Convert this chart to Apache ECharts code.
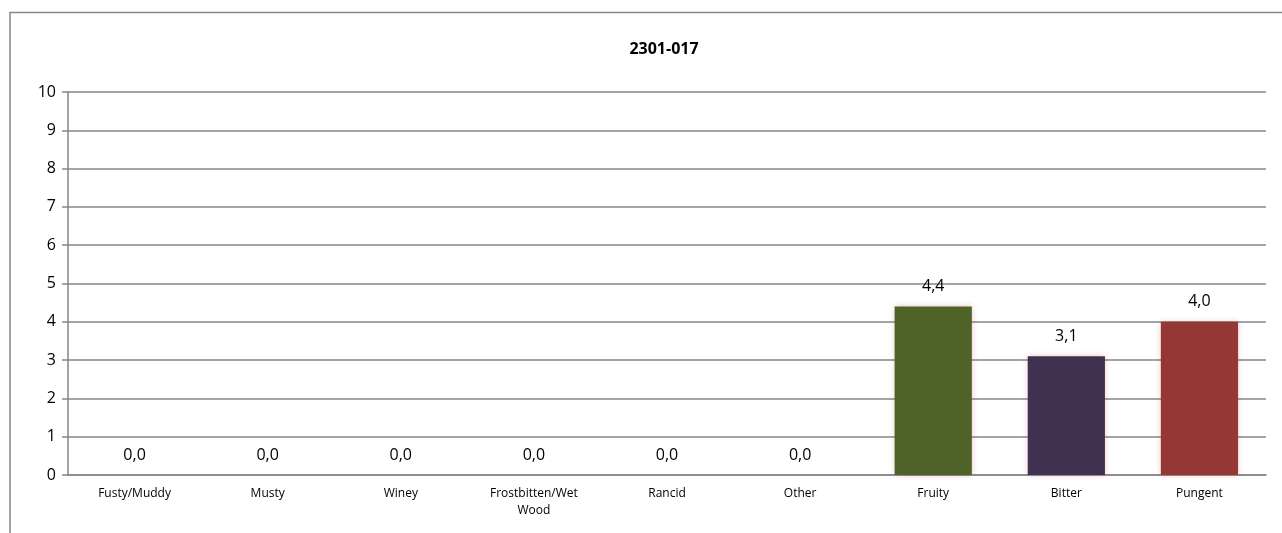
<!DOCTYPE html>
<html>
<head>
<meta charset="utf-8">
<script src="https://cdn.jsdelivr.net/npm/echarts@6/dist/echarts.min.js"></script>
<style>
  html, body { margin: 0; padding: 0; background: #fff; }
  #main { width: 1282px; height: 533px; }
</style>
</head>
<body>
<div id="main"></div>
<script>
// data
var categories = ['Fusty/Muddy', 'Musty', 'Winey', 'Frostbitten/Wet\nWood', 'Rancid', 'Other', 'Fruity', 'Bitter', 'Pungent'];
var values = [0, 0, 0, 0, 0, 0, 4.4, 3.1, 4.0];
var barColors = ['#4F6228', '#4F6228', '#4F6228', '#4F6228', '#4F6228', '#4F6228', '#4F6228', '#403151', '#953735'];
var yTicks = [0, 1, 2, 3, 4, 5, 6, 7, 8, 9, 10];

var myChart = echarts.init(document.getElementById('main'));

var font = 'Open Sans, Noto Sans, sans-serif';

var option = {
  animation: false,
  title: {
    text: '2301-017',
    left: 659,
    top: 36,
    textAlign: 'center',
    textStyle: { fontFamily: font, fontSize: 16, fontWeight: 'bold', color: '#000' }
  },
  graphic: [
    {
      type: 'polyline',
      shape: { points: [[10, 533], [10, 12.5], [1282, 12.5]] },
      style: { stroke: '#868686', lineWidth: 1.5, fill: null }
    }
  ],
  grid: { left: 68, right: 16, top: 92, bottom: 58 },
  xAxis: {
    type: 'category',
    data: categories,
    axisLine: { show: true, lineStyle: { color: '#868686', width: 1.5 } },
    axisTick: { show: false },
    axisLabel: {
      fontFamily: font, fontSize: 12, color: '#000', margin: 10, lineHeight: 17, interval: 0
    }
  },
  yAxis: {
    type: 'value',
    min: yTicks[0],
    max: yTicks[yTicks.length - 1],
    interval: 1,
    axisLine: { show: true, lineStyle: { color: '#868686', width: 1.5 } },
    axisTick: { show: true, length: 6, lineStyle: { color: '#868686', width: 1.5 } },
    axisLabel: { fontFamily: font, fontSize: 16, color: '#000', margin: 12 },
    splitLine: { show: true, lineStyle: { color: '#868686', width: 1.5 } }
  },
  series: [
    {
      type: 'bar',
      data: values.map(function (v, i) {
        return { value: v, itemStyle: { color: barColors[i] } };
      }),
      barCategoryGap: '42%',
      itemStyle: {
        shadowColor: 'rgba(170, 40, 40, 0.25)',
        shadowBlur: 6
      },
      label: {
        show: true,
        position: 'top',
        distance: 12,
        fontFamily: font,
        fontSize: 16,
        color: '#000',
        formatter: function (p) { return p.value.toFixed(1).replace('.', ','); }
      }
    }
  ]
};

myChart.setOption(option);
window.addEventListener('resize', myChart.resize);
</script>
</body>
</html>
